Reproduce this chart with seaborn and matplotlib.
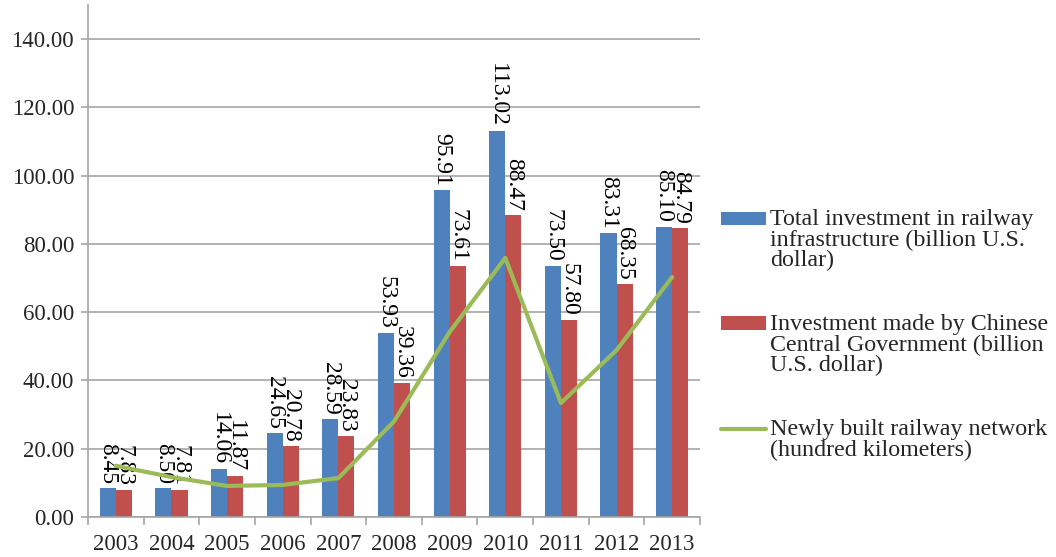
import numpy as np
import pandas as pd
import matplotlib
matplotlib.use("Agg")
import matplotlib.pyplot as plt
import seaborn as sns
from matplotlib.legend_handler import HandlerBase
from matplotlib.patches import Rectangle, Patch
from matplotlib.lines import Line2D

years = ["2003", "2004", "2005", "2006", "2007", "2008", "2009", "2010", "2011", "2012", "2013"]
total_investment = [8.45, 8.50, 14.06, 24.65, 28.59, 53.93, 95.91, 113.02, 73.50, 83.31, 85.10]
central_investment = [7.83, 7.81, 11.87, 20.78, 23.83, 39.36, 73.61, 88.47, 57.80, 68.35, 84.79]
new_railway = [15.0, 11.7, 9.1, 9.4, 11.4, 28.0, 54.2, 75.9, 33.4, 48.9, 70.3]

label_total = "Total investment in railway\ninfrastructure (billion U.S.\ndollar)"
label_central = "Investment made by Chinese\nCentral Government (billion\nU.S. dollar)"
label_line = "Newly built railway network\n(hundred kilometers)"

c_blue = "#4F81BD"
c_red = "#C0504D"
c_green = "#9BBB59"
grid_c = "#A6A6A6"

sns.set_theme(style="white")
plt.rcParams['font.family'] = ['Liberation Serif', 'DejaVu Serif']

df = pd.DataFrame({
    "year": years * 2,
    "value": total_investment + central_investment,
    "series": [label_total] * len(years) + [label_central] * len(years),
})

fig = plt.figure(figsize=(10.56, 5.57), dpi=100)
ax = fig.add_axes([88 / 1056, 1 - 517 / 557, 612 / 1056, 512 / 557])

sns.barplot(data=df, x="year", y="value", hue="series", order=years,
            hue_order=[label_total, label_central],
            palette=[c_blue, c_red], width=0.58, gap=0, ax=ax,
            legend=False, saturation=1, linewidth=0, errorbar=None)

pos = np.arange(len(years))
sns.lineplot(x=pos, y=new_railway, color=c_green, linewidth=3.0, ax=ax,
             legend=False, zorder=5)

for cont, vals in zip(ax.containers, [total_investment, central_investment]):
    ax.bar_label(cont, labels=[f"{v:.2f}" for v in vals], rotation=-90,
                 padding=3, fontsize=17, color="black")

ax.set_ylim(0, 150)
ax.set_xlim(-0.5, len(years) - 0.5)
ax.set_yticks(np.arange(0, 141, 20))
ax.set_yticklabels([f"{v:.2f}" for v in np.arange(0, 141, 20)])
ax.set_xticks(pos)
ax.set_xticklabels(years)
ax.set_xticks(np.arange(-0.5, len(years), 1.0), minor=True)
ax.yaxis.grid(True, color=grid_c, linewidth=1.2)
ax.set_axisbelow(True)
ax.set_xlabel("")
ax.set_ylabel("")

for s in ["top", "right"]:
    ax.spines[s].set_visible(False)
for s in ["left", "bottom"]:
    ax.spines[s].set_color(grid_c)
    ax.spines[s].set_linewidth(1.2)

ax.tick_params(axis="y", which="major", length=5, width=1.2, color=grid_c,
               labelsize=16.5, pad=5, left=True)
ax.tick_params(axis="x", which="major", length=0, labelsize=16.5, pad=12)
ax.tick_params(axis="x", which="minor", length=6, width=1.2, color=grid_c,
               bottom=True)

LEG_FS = 17.3
LINE_PITCH = 15.6  # points between legend text lines


class TopPatch(HandlerBase):
    def __init__(self, nlines, **kw):
        super().__init__(**kw)
        self.nlines = nlines

    def create_artists(self, legend, orig_handle, xdescent, ydescent, width,
                       height, fontsize, trans):
        shift = (self.nlines - 1) / 2 * LINE_PITCH
        r = Rectangle((-xdescent, -ydescent + shift), width, height,
                      facecolor=orig_handle.get_facecolor(), edgecolor="none",
                      transform=trans)
        return [r]


class TopLine(HandlerBase):
    def __init__(self, nlines, **kw):
        super().__init__(**kw)
        self.nlines = nlines

    def create_artists(self, legend, orig_handle, xdescent, ydescent, width,
                       height, fontsize, trans):
        shift = (self.nlines - 1) / 2 * LINE_PITCH
        y = height / 2 - ydescent + shift
        ln = Line2D([-xdescent, -xdescent + width], [y, y],
                    color=orig_handle.get_color(),
                    linewidth=orig_handle.get_linewidth(), transform=trans)
        return [ln]


h1 = Patch(facecolor=c_blue)
h2 = Patch(facecolor=c_red)
h3 = Line2D([], [], color=c_green, linewidth=3.0)
leg = fig.legend([h1, h2, h3], [label_total, label_central, label_line],
                 handler_map={h1: TopPatch(3), h2: TopPatch(3), h3: TopLine(2)},
                 loc="upper left", bbox_to_anchor=(0.683, 0.624), frameon=False,
                 fontsize=LEG_FS, handlelength=1.87, handleheight=0.46,
                 handletextpad=0.17, labelspacing=1.8, borderaxespad=0,
                 borderpad=0)
for t in leg.get_texts():
    t.set_linespacing(0.95)

fig.savefig("out.png", dpi=100)
